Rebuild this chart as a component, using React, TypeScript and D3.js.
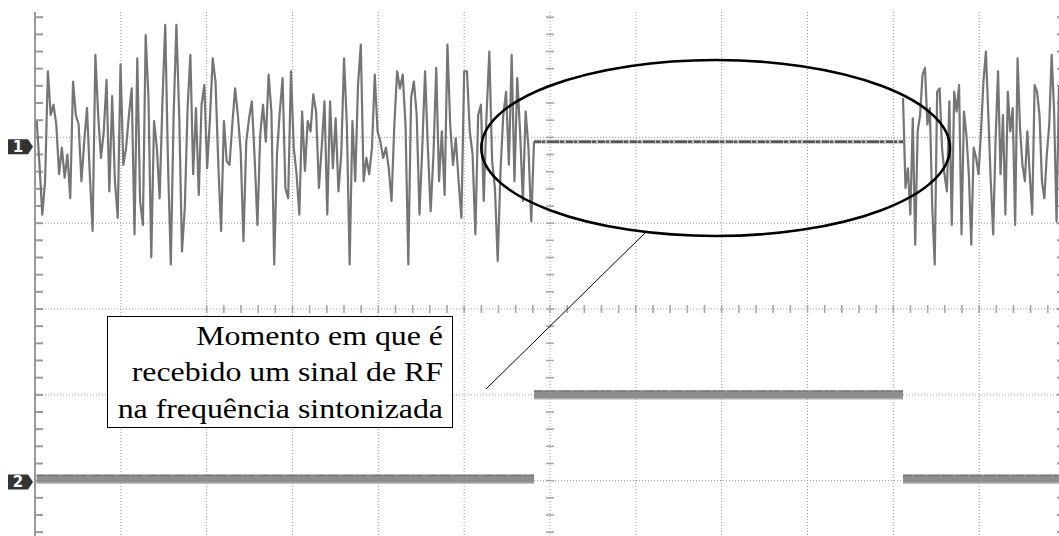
import React, { useEffect } from 'react';
import * as d3 from 'd3';

// Oscilloscope screen: 12 x 8 divisions, all values in divisions
// Channel 1 (receiver output) before the RF signal arrives
const ch1Before = [
  0.24, -0.27, -0.85, -0.46, 0.82, 0.31, 0.43, 0.2, -0.38, -0.07, -0.42, -0.15, -0.66, 0.7, 0.31, 0.2, -0.46, 0.0, 0.39, -0.38,
  -1.04, 1.01, 0.31, -0.19, 0.12, 0.72, -0.58, 0.53, -0.46, -0.89, 0.9, -0.27, -0.07, 0.31, 0.62, -1.08, 0.97, -0.69, -0.97, 1.24,
  0.51, -1.35, 0.24, -0.07, -0.66, 0.47, 1.36, -0.27, -1.43, 0.31, 1.36, 0.31, -1.28, -0.77, 0.39,
  1.01, -0.38, 0.39, -0.62, 0.43, 0.66, -0.31, 0.27, 0.97, 0.7, -0.27, -1.04, 0.24, -0.23, -0.27, 0.2, 0.62, 0.31, -0.11, -1.16,
  0.0, 0.27, 0.47, -0.19, -0.97, 0.08, 0.43, 0.0, 0.78, 0.35, -1.43, -0.15, 0.35, 0.74, -0.54, -0.66, 0.82, -0.07, -0.38, -0.85,
  0.35, -0.34, 0.24, 0.12, 0.55, 0.35, -0.54, -0.07, 0.47, -0.85, 0.47, -0.31, 0.27, -0.58, -0.15, 0.97, 0.2, -1.43, 0.24, -0.46,
  0.66, 1.13, -0.46, -0.19,
  -0.38, -0.07, 0.78, 0.12, 0.0, -0.19, -0.07, -0.31, -0.69, 0.2, 0.82, 0.62, 0.78, 0.2, -1.43, 0.51, 0.7, 0.31, -0.85, -0.07,
  0.82, -0.07, -0.81, -0.15, 0.86, -0.46, 0.12, -0.62, 1.13, 0.2, -0.27, 0.04, -0.46, -0.89, 0.82, 0.82, 0.12, -0.15, -1.08, 0.31,
  0.43, -0.69, 0.31, 1.05, -0.23, -0.54, -1.39, -0.34, 0.31, 0.58, -0.27, 1.01, -0.46, 0.74, 0.12, -0.69, 0.35, -0.07, -0.93, 0.0,
];
// Channel 1 after the RF signal ends
const ch1After = [
  0.51, -0.54, -0.31, -0.85, 0.27, -1.2, 0.12, 0.31, 0.78, 0.86, 0.2, 0.39, -0.77, -1.43, 0.58, 0.62, -0.07, -0.38, -0.58, 0.47,
  -0.97, 0.58, 0.35, 0.66, -1.08, 0.35, 0.08, -0.38, -1.2, -0.07, -0.19, -0.38, 0.12, 0.7, 1.05, 0.31, -0.46, -1.08, 0.04, 0.82,
  -0.38, 0.31, -0.85, 0.58, 0.12, 0.39, -0.97, 0.97, 0.16, -0.27, -0.46, 0.12, -0.38, -0.85, 0.66, 0.58, 0.31, -0.46, -0.66, -0.15,
  0.2, 1.01, 0.35, -0.93, 0.66,
];

// time marks (divisions)
const traceStart = 0.02;
const rfOn = 5.814;
const rfOff = 10.113;
const traceEnd = 11.93;

// channel offsets and ch2 levels (divisions)
const ch1Offset = 1.95;
const ch2Offset = -1.98;
const ch2Levels = [0, 0.98];

const noteLines = ['Momento em que é', 'recebido um sinal de RF', 'na frequência sintonizada'];

const W = 1059;
const H = 536;
const TOP = 12;

const x = d3.scaleLinear().domain([0, 12]).range([35, 1065]);
const y = d3.scaleLinear().domain([-4, 4]).range([309 + 4 * 85.83, 309 - 4 * 85.83]);

const spread = (vals: number[], t0: number, t1: number) =>
  vals.map((v, i) => [t0 + ((t1 - t0) * i) / (vals.length - 1), v] as [number, number]);

const line = d3.line<[number, number]>().x(d => x(d[0])).y(d => y(d[1]));

const gridStyle = { stroke: '#9a9a9a', strokeWidth: 1, strokeDasharray: '1 2' };
const serif = '"Liberation Serif", "DejaVu Serif", serif';

const Marker = ({ label, cy }: { label: string; cy: number }) => (
  <g>
    <path d={`M8,${cy - 7.5}H28L33,${cy}L28,${cy + 7.5}H8Z`} fill="#333" />
    <text x={18} y={cy + 5.5} fill="#fff" fontSize={15} fontWeight="bold" textAnchor="middle"
      style={{ fontFamily: '"DejaVu Sans", sans-serif' }}>{label}</text>
  </g>
);

export default function App() {
  useEffect(() => {
    document.body.style.margin = '0';
  }, []);

  const vGrid = d3.range(1, 12).map(k => x(k));
  const hGrid = d3.range(-3, 3).map(k => y(k));
  const minor = d3.range(-20, 21).map(k => k / 5);
  const minorY = minor.map(v => y(v)).filter(p => p >= TOP && p <= H);
  const minorX = minor.concat(d3.range(21, 31).map(k => k / 5)).map(t => x(t + 6)).filter(p => p > 36 && p < W);

  const before = spread(ch1Before, traceStart, rfOn).map(d => [d[0], d[1] + ch1Offset] as [number, number]);
  const after = spread(ch1After, rfOff, traceEnd).map(d => [d[0], d[1] + ch1Offset] as [number, number]);
  const flat: [number, number][] = [[rfOn, ch1Offset], [rfOff, ch1Offset]];

  const ch2Segs: [number, number, number][] = [
    [traceStart, rfOn, ch2Levels[0]],
    [rfOn, rfOff, ch2Levels[1]],
    [rfOff, traceEnd, ch2Levels[0]],
  ];

  // annotation: ellipse around the quiet part of ch1
  const ecx = x(7.93), ecy = y(1.876);
  const erx = x(2.73) - x(0), ery = y(0) - y(1.025);

  return (
    <svg width={W} height={H} style={{ display: 'block', background: '#fff' }}>
      <defs>
        <clipPath id="screen"><rect x={0} y={TOP} width={W} height={H - TOP} /></clipPath>
      </defs>
      <g clipPath="url(#screen)">
        {vGrid.map((px, i) => <line key={'v' + i} x1={px} x2={px} y1={TOP} y2={H} style={gridStyle} />)}
        {hGrid.map((py, i) => <line key={'h' + i} x1={36} x2={W} y1={py} y2={py} style={gridStyle} />)}
        {/* left border with ticks */}
        <line x1={35} x2={35} y1={TOP} y2={H} stroke="#9a9a9a" strokeWidth={2} />
        {minorY.map((py, i) => <line key={'l' + i} x1={35} x2={43} y1={py} y2={py} stroke="#9a9a9a" strokeWidth={2} />)}
        {minorY.map((py, i) => <line key={'r' + i} x1={1057} x2={W} y1={py} y2={py} stroke="#9a9a9a" strokeWidth={2} />)}
        {/* centre axes ticks */}
        {minorY.map((py, i) => <line key={'c' + i} x1={x(6) - 4} x2={x(6) + 4} y1={py} y2={py} stroke="#a8a8a8" strokeWidth={1.6} />)}
        {minorX.map((px, i) => <line key={'m' + i} x1={px} x2={px} y1={y(0) - 4} y2={y(0) + 4} stroke="#a8a8a8" strokeWidth={1.6} />)}

        {/* channel 2 */}
        {ch2Segs.map((s, i) => (
          <g key={'s' + i}>
            <line x1={x(s[0])} x2={x(s[1])} y1={y(ch2Offset + s[2])} y2={y(ch2Offset + s[2])} stroke="#8e8e8e" strokeWidth={9} />
            <line x1={x(s[0])} x2={x(s[1])} y1={y(ch2Offset + s[2]) - 3.5} y2={y(ch2Offset + s[2]) - 3.5}
              stroke="#777" strokeWidth={1.5} strokeDasharray="9 2 4 1 6 3 2 1" />
            <line x1={x(s[0])} x2={x(s[1])} y1={y(ch2Offset + s[2]) + 4} y2={y(ch2Offset + s[2]) + 4}
              stroke="#bbb" strokeWidth={1} />
          </g>
        ))}

        {/* channel 1 */}
        <path d={line(flat) || ''} fill="none" stroke="#bdbdbd" strokeWidth={4} />
        <path d={line(flat) || ''} fill="none" stroke="#555" strokeWidth={2.5} strokeDasharray="7 1 3 2 12 1 4 2" />
        <path d={line(before) || ''} fill="none" stroke="#757575" strokeWidth={2.2} strokeLinejoin="round" />
        <path d={line(after) || ''} fill="none" stroke="#757575" strokeWidth={2.2} strokeLinejoin="round" />
      </g>

      <Marker label="1" cy={y(ch1Offset) + 5} />
      <Marker label="2" cy={y(ch2Offset) + 3} />

      {/* annotation */}
      <ellipse cx={ecx} cy={ecy} rx={erx} ry={ery} fill="none" stroke="#000" strokeWidth={2.6} />
      <line x1={486} y1={389} x2={645} y2={233} stroke="#000" strokeWidth={1} />
      <rect x={107.5} y={316.5} width={345} height={111} fill="#fff" stroke="#000" strokeWidth={1} />
      {/* the source screenshot is stretched horizontally, so the note text is too */}
      <g transform="translate(443,0) scale(1.18,1)">
        {noteLines.map((t, i) => (
          <text key={t} x={0} y={345 + i * 36.5} textAnchor="end" fontSize={27}
            style={{ fontFamily: serif }} fill="#000">{t}</text>
        ))}
      </g>
    </svg>
  );
}
